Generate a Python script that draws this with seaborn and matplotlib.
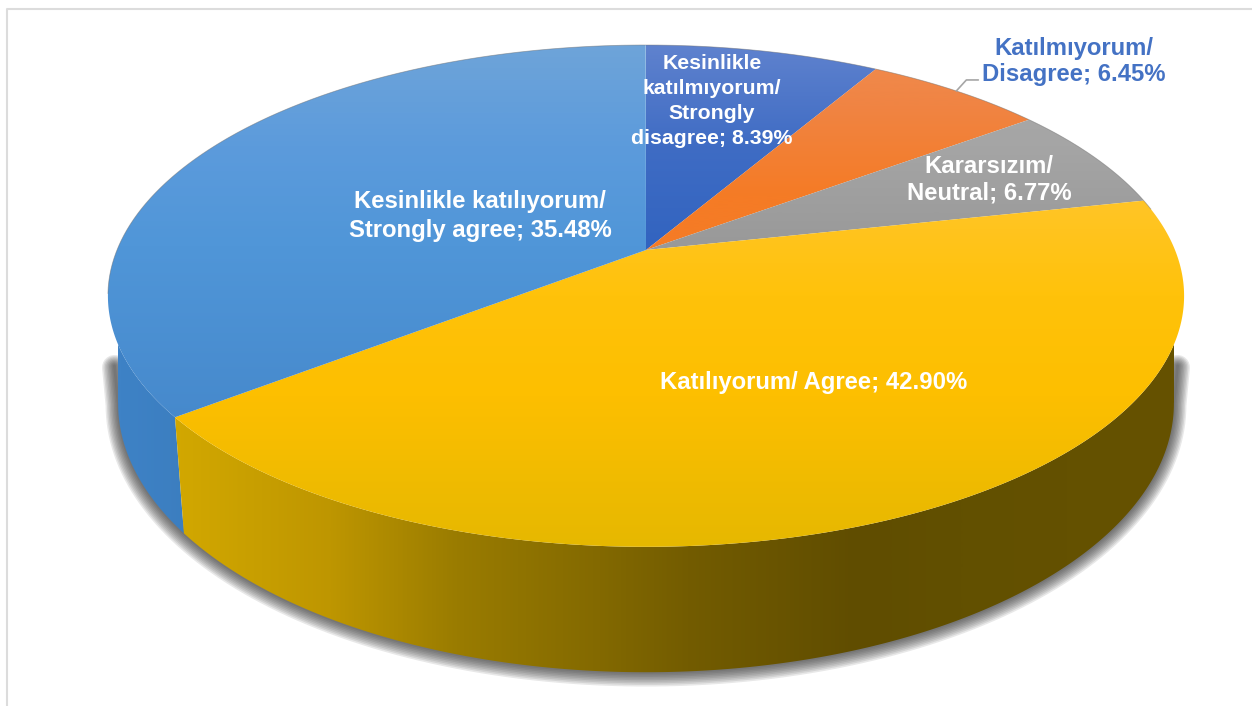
import numpy as np
import matplotlib
matplotlib.use("Agg")
import matplotlib.pyplot as plt
from matplotlib.colors import LinearSegmentedColormap
from matplotlib.patches import Polygon
import seaborn as sns

# slices in clockwise order starting from 12 o'clock
categories = ["Kesinlikle katılmıyorum/ Strongly disagree", "Katılmıyorum/ Disagree",
              "Kararsızım/ Neutral", "Katılıyorum/ Agree", "Kesinlikle katılıyorum/ Strongly agree"]
values = [8.39, 6.45, 6.77, 42.90, 35.48]
labels = ["Kesinlikle\nkatılmıyorum/\nStrongly\ndisagree; 8.39%",
          "Katılmıyorum/\nDisagree; 6.45%",
          "Kararsızım/\nNeutral; 6.77%",
          "Katılıyorum/ Agree; 42.90%",
          "Kesinlikle katılıyorum/\nStrongly agree; 35.48%"]

sns.set_theme(style="white")
plt.rcParams["font.family"] = ["Liberation Sans", "DejaVu Sans"]

W, H = 1252, 706
TOP_DISC = dict(cx=646, cy=250, a=529, b=242.5, k=0.183)
LOW_DISC = dict(cx=646, cy=354, a=519, b=260, k=0.183)
TOP_SPAN = (45, 547)
SIDE_SPAN = (118, 1174)

top_stops = [
    [(0, "#5F82CE"), (0.2, "#3F6CC4"), (0.45, "#2F62BF"), (1, "#2F62BF")],
    [(0, "#F08C50"), (0.12, "#F08443"), (0.3, "#F57B25"), (1, "#F57B25")],
    [(0, "#ABABAB"), (0.2, "#A5A5A5"), (0.4, "#999999"), (1, "#999999")],
    [(0, "#FFC62E"), (0.3, "#FFC528"), (0.5, "#FFC20A"), (0.7, "#FDBF00"), (1, "#E6B800")],
    [(0, "#6EA4D9"), (0.2, "#5C9BDC"), (0.4, "#5096D8"), (0.75, "#4689CC"), (1, "#4285C8")],
]
side_stops = [
    [(0, "#3C7EC0"), (1, "#3C7EC0")],
    [(0, "#C67C30"), (1, "#C67C30")],
    [(0, "#808080"), (1, "#808080")],
    [(0, "#D8AC00"), (0.07, "#D0A600"), (0.2, "#BE9600"), (0.32, "#9A7C00"), (0.45, "#846A00"),
     (0.54, "#735C00"), (0.7, "#604D00"), (0.8, "#625000"), (1, "#665200")],
    [(0, "#3E82C6"), (0.08, "#3B7DBE"), (1, "#3B7DBE")],
]


def project(angle, disc):
    # angle in radians clockwise from the far point of the disc
    u, v = np.sin(angle), np.cos(angle)
    w = 1 + disc["k"] * v
    return disc["cx"] + disc["a"] * u / w, disc["cy"] - disc["b"] * v / w


def gradient_fill(ax, xs, ys, stops, span, vertical, zorder):
    cmap = LinearSegmentedColormap.from_list("g", stops)
    ramp = np.linspace(0, 1, 512)
    if vertical:
        img, extent = ramp[:, None], (0, W, span[1], span[0])
    else:
        img, extent = ramp[None, :], (span[0], span[1], H, 0)
    im = ax.imshow(img, cmap=cmap, vmin=0, vmax=1, extent=extent, aspect="auto",
                   origin="upper", interpolation="bilinear", zorder=zorder)
    clip = Polygon(np.column_stack([xs, ys]), closed=True, transform=ax.transData,
                   facecolor="none", edgecolor="none")
    ax.add_patch(clip)
    im.set_clip_path(clip)


fig, ax = plt.subplots(figsize=(W / 100, H / 100), dpi=100)
fig.subplots_adjust(0, 0, 1, 1)
ax.axis("off")

# page frame (left and top only)
ax.plot([6.5, 6.5, W], [H, 8.5, 8.5], color="#DCDCDC", lw=1.5, zorder=1)

edges = np.radians(np.concatenate([[0], np.cumsum(values)]) * 3.6)

# the silhouette leaves the rims where they are widest
right_turn = np.arccos(-TOP_DISC["k"])
left_turn = 2 * np.pi - right_turn

# soft shadow round the lower part of the body, starting part way down the wall
t = np.linspace(right_turn, left_turn, 400)
ring_x, ring_y = project(t, LOW_DISC)
tl_x, tl_y = project(left_turn, TOP_DISC)
tr_x, tr_y = project(right_turn, TOP_DISC)
hull_x = np.r_[ring_x[-1] + (tl_x - ring_x[-1]) * 0.35, ring_x[::-1], ring_x[0] + (tr_x - ring_x[0]) * 0.35]
hull_y = np.r_[ring_y[-1] + (tl_y - ring_y[-1]) * 0.35, ring_y[::-1], ring_y[0] + (tr_y - ring_y[0]) * 0.35]
for grow in np.arange(9, 0, -1):
    ax.plot(hull_x, hull_y + grow * 0.2, color="#303030", alpha=0.11, lw=grow * 2,
            solid_capstyle="round", solid_joinstyle="round", zorder=2)

# side walls, only the visible near side matters
for i in [4, 3]:
    start = right_turn if i == 3 else edges[i]
    stop = edges[i + 1] if i == 3 else left_turn
    t = np.linspace(start, stop, 300)
    x1, y1 = project(t, TOP_DISC)
    x2, y2 = project(t[::-1], LOW_DISC)
    gradient_fill(ax, np.r_[x1, x2], np.r_[y1, y2], side_stops[i], SIDE_SPAN, False, 3)

# top face
for i in range(len(values)):
    t = np.linspace(edges[i], edges[i + 1], 300)
    x, y = project(t, TOP_DISC)
    xs = np.r_[TOP_DISC["cx"], x]
    ys = np.r_[TOP_DISC["cy"], y]
    gradient_fill(ax, xs, ys, top_stops[i], TOP_SPAN, True, 4)

# thin rim along the back of the disc
t = np.linspace(np.radians(-100), np.radians(80), 400)
x, y = project(t, TOP_DISC)
ax.plot(x, y, color="#707070", lw=0.6, alpha=0.5, zorder=5)

# leader line for the one label outside the pie
mid = edges[1] + (edges[2] - edges[1]) / 2
lx, ly = project(mid, TOP_DISC)
ax.plot([lx, lx + 10, lx + 22], [ly, ly - 11, ly - 11], color="#A6A6A6", lw=1.2, zorder=5)

# label placement in pixels
label_x = [712, 1074, 989, 814, 480]
label_y = [101, 61.5, 180, 383, 216]
label_size = [15.3, 17.2, 17.2, 17.2, 17.2]
label_color = ["white", "#4472C4", "white", "white", "white"]
label_space = [1.42, 1.22, 1.22, 1.2, 1.33]
for i, lab in enumerate(labels):
    ax.text(label_x[i], label_y[i], lab, ha="center", va="center", fontsize=label_size[i],
            fontweight="bold", color=label_color[i], linespacing=label_space[i], zorder=6)

ax.set_xlim(0, W)
ax.set_ylim(H, 0)
fig.savefig("out.png", dpi=100, facecolor="white")
